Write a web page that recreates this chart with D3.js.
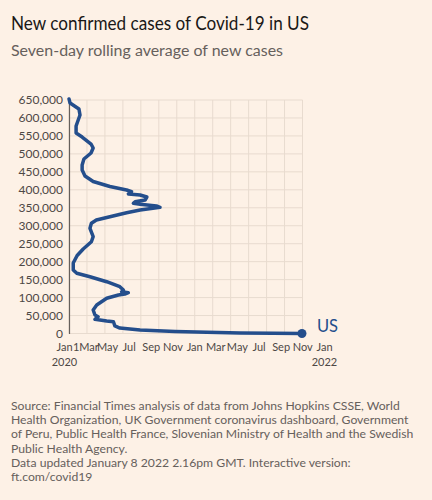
<!DOCTYPE html>
<html>
<head>
<meta charset="utf-8">
<script src="https://cdn.jsdelivr.net/npm/d3@7"></script>
<style>
  html, body { margin: 0; padding: 0; background: #fdf1e6; }
  svg { display: block; }
</style>
</head>
<body>
<svg id="chart" width="432" height="500"></svg>
<script>
// ---- data ----
const dayOffsets = [14,17,42,45,39,34,34,51,76,82,76,56,51,51,59,82,129,176,190,181,214,233,228,200,195,214,260,270,250,214,176,129,91,77,73,82,77,54,37,26,26,36,73,120,157,167,162,181,171,153,120,92,82,87,96,87,101,120,139,143,157,214,312,402,495,588,669];
const caseValues = [653000,641600,624900,608300,591500,577600,558100,547000,527500,516400,502500,485800,469100,455100,438400,423100,409200,399500,394700,388300,385500,380000,371600,366900,362400,359700,354900,351300,348500,343800,336300,325100,316000,306800,292800,269500,255500,235200,217100,196200,176800,167600,158100,144200,130300,121100,116400,113600,110000,107200,98000,79300,65400,51500,46800,39500,37600,34800,32800,20900,15300,9700,5600,3300,1400,600,0];
const yTickValues = [0,50000,100000,150000,200000,250000,300000,350000,400000,450000,500000,550000,600000,650000];
const xTickMonths = ["Jan","1Mar","May","Jul","Sep","Nov","Jan","Mar","May","Jul","Sep","Nov","Jan"];
const xTickYears  = ["2020","","","","","","","","","","","","2022"];
const seriesLabel = "US";
const titleText = "New confirmed cases of Covid-19 in US";
const subtitleText = "Seven-day rolling average of new cases";
const sourceLines = [
  "Source: Financial Times analysis of data from Johns Hopkins CSSE, World",
  "Health Organization, UK Government coronavirus dashboard, Government",
  "of Peru, Public Health France, Slovenian Ministry of Health and the Swedish",
  "Public Health Agency.",
  "Data updated January 8 2022 2.16pm GMT. Interactive version:",
  "ft.com/covid19"
];

const FONT = "Lato, 'Noto Sans', sans-serif";
const svg = d3.select("#chart");
const start = new Date(2020, 0, 1);
const data = dayOffsets.map((d, i) => ({ date: d3.timeDay.offset(start, d), value: caseValues[i] }));

const x = d3.scaleTime().domain([new Date(2020,0,1), new Date(2022,0,1)]).range([64, 324]);
const y = d3.scaleLinear().domain([0, 650000]).range([333.5, 100]);
const plotLeft = 69;
// square grid: vertical grid spacing equals horizontal spacing
const gx = d3.scaleLinear().domain([0, 650000]).range([plotLeft, plotLeft + (y(0) - y(650000))]);

// title
svg.append("text").attr("x", 11).attr("y", 30).text(titleText)
  .attr("font-family", FONT).attr("font-size", 18.5).attr("fill", "#1a1817")
  .attr("textLength", 298).attr("lengthAdjust", "spacingAndGlyphs");
svg.append("text").attr("x", 11).attr("y", 56).text(subtitleText)
  .attr("font-family", FONT).attr("font-size", 15.5).attr("fill", "#66605c")
  .attr("textLength", 272).attr("lengthAdjust", "spacingAndGlyphs");

// grid
const grid = svg.append("g");
grid.selectAll("line.h").data(yTickValues).join("line")
  .attr("x1", plotLeft).attr("x2", gx(650000))
  .attr("y1", d => y(d)).attr("y2", d => y(d))
  .attr("stroke", "#e8dbcf").attr("stroke-width", 1);
grid.selectAll("line.v").data(yTickValues).join("line")
  .attr("x1", d => gx(d)).attr("x2", d => gx(d))
  .attr("y1", y(650000)).attr("y2", y(0))
  .attr("stroke", "#e8dbcf").attr("stroke-width", 1);

// y axis
const yAxis = svg.append("g").attr("transform", `translate(${plotLeft},0)`)
  .call(d3.axisLeft(y).tickValues(yTickValues).tickSize(0).tickPadding(6).tickFormat(d3.format(",")));
yAxis.select(".domain").attr("stroke", "#66605c").attr("stroke-width", 1.2);
yAxis.selectAll("text").attr("font-family", FONT).attr("font-size", 12).attr("fill", "#4d4845");

// x axis labels
const xTicks = d3.range(0, 25, 2).map(m => d3.timeMonth.offset(start, m));
const xAxis = svg.append("g").attr("transform", `translate(0,${y(0)})`)
  .call(d3.axisBottom(x).tickValues(xTicks).tickSize(0).tickPadding(10).tickFormat((d, i) => xTickMonths[i]));
xAxis.select(".domain").remove();
xAxis.selectAll("text").attr("font-family", FONT).attr("font-size", 11).attr("fill", "#4d4845")
  .each(function(d, i) {
    if (xTickYears[i]) {
      d3.select(this).append("tspan").attr("x", 0).attr("dy", "1.3em").text(xTickYears[i]);
    }
  });

// line
const line = d3.line().x(d => x(d.date)).y(d => y(d.value)).curve(d3.curveLinear);
svg.append("path").datum(data).attr("d", line)
  .attr("fill", "none").attr("stroke", "#244e8c").attr("stroke-width", 3.5)
  .attr("stroke-linejoin", "round").attr("stroke-linecap", "round");

const last = data[data.length - 1];
svg.append("circle").attr("cx", x(last.date)).attr("cy", y(last.value)).attr("r", 4.5).attr("fill", "#244e8c");
svg.append("text").attr("x", x(last.date) + 15).attr("y", y(last.value) - 2).text(seriesLabel)
  .attr("font-family", FONT).attr("font-size", 16.5).attr("fill", "#244e8c");

// source
svg.append("g").selectAll("text").data(sourceLines).join("text")
  .attr("x", 11).attr("y", (d, i) => 410 + i * 14.2).text(d => d)
  .attr("font-family", FONT).attr("font-size", 12.2).attr("fill", "#66605c");
</script>
</body>
</html>
